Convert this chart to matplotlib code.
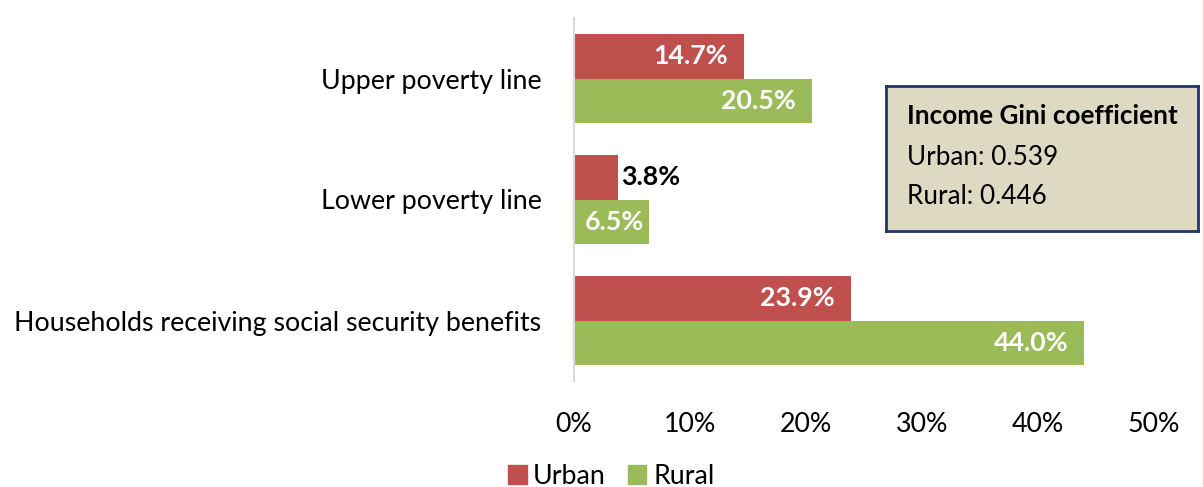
import matplotlib
matplotlib.use("Agg")
import matplotlib.pyplot as plt
from matplotlib.patches import Patch

plt.rcParams['font.family'] = ['Lato', 'DejaVu Sans']

categories = ["Upper poverty line", "Lower poverty line", "Households receiving social security benefits"]
urban = [14.7, 3.8, 23.9]
rural = [20.5, 6.5, 44.0]
xticks = [0, 10, 20, 30, 40, 50]
xtick_labels = ["0%", "10%", "20%", "30%", "40%", "50%"]
gini_title = "Income Gini coefficient"
gini_lines = ["Urban: 0.539", "Rural: 0.446"]

RED = "#C0504D"
GREEN = "#9BBB59"
FS = 19.3

fig = plt.figure(figsize=(12.03, 4.87), dpi=100)
ax = fig.add_axes([573.5/1203, 1 - 381/487, (1154-573.5)/1203, (381-18)/487])

h = 0.364
pos = list(range(len(categories)))
ax.barh([p - h/2 for p in pos], urban, height=h, color=RED, label="Urban")
ax.barh([p + h/2 for p in pos], rural, height=h, color=GREEN, label="Rural")

ax.set_ylim(2.5, -0.5)
ax.set_xlim(0, 50)
ax.set_yticks(pos)
ax.set_yticklabels(categories, fontsize=FS)
ax.set_xticks(xticks)
ax.set_xticklabels(xtick_labels, fontsize=FS)
ax.tick_params(axis='both', length=0)
ax.tick_params(axis='x', pad=22)
ax.tick_params(axis='y', pad=23)
for s in ['top', 'right', 'bottom']:
    ax.spines[s].set_visible(False)
ax.spines['left'].set_color('#D9D9D9')
ax.spines['left'].set_linewidth(1.5)

for i, v in enumerate(urban):
    y = i - h/2
    if v < 5:
        ax.annotate(f"{v:.1f}%", (v, y), xytext=(3, 0), textcoords='offset pixels',
                    ha='left', va='center', fontsize=FS, fontweight='bold', color='black')
    else:
        ax.annotate(f"{v:.1f}%", (v, y), xytext=(-16, 0), textcoords='offset pixels',
                    ha='right', va='center', fontsize=FS, fontweight='bold', color='white')
for i, v in enumerate(rural):
    y = i + h/2
    pad = -16 if v > 8 else -5
    ax.annotate(f"{v:.1f}%", (v, y), xytext=(pad, 0), textcoords='offset pixels',
                ha='right', va='center', fontsize=FS, fontweight='bold', color='white')

# Gini box
bx0, by0, bx1, by1 = 886, 86, 1198, 231
box_ax = fig.add_axes([bx0/1203, 1 - by1/487, (bx1-bx0)/1203, (by1-by0)/487])
box_ax.set_xticks([]); box_ax.set_yticks([])
box_ax.set_facecolor('#DDD9C3')
for s in box_ax.spines.values():
    s.set_color('#1F3864'); s.set_linewidth(2)
fig.text(907/1203, 1 - 116/487, gini_title, fontsize=18.8, fontweight='bold', va='center', ha='left')
fig.text(907/1203, 1 - 157/487, gini_lines[0], fontsize=18.8, va='center', ha='left')
fig.text(907/1203, 1 - 197/487, gini_lines[1], fontsize=18.8, va='center', ha='left')

handles = [Patch(color=RED, label="Urban"), Patch(color=GREEN, label="Rural")]
fig.legend(handles=handles, loc='center', bbox_to_anchor=(611/1203, 1 - 476/487), ncol=2,
           frameon=False, fontsize=FS, handlelength=0.7, handleheight=0.7,
           handletextpad=0.25, columnspacing=0.8, borderaxespad=0)

fig.savefig("out.png", dpi=100)
